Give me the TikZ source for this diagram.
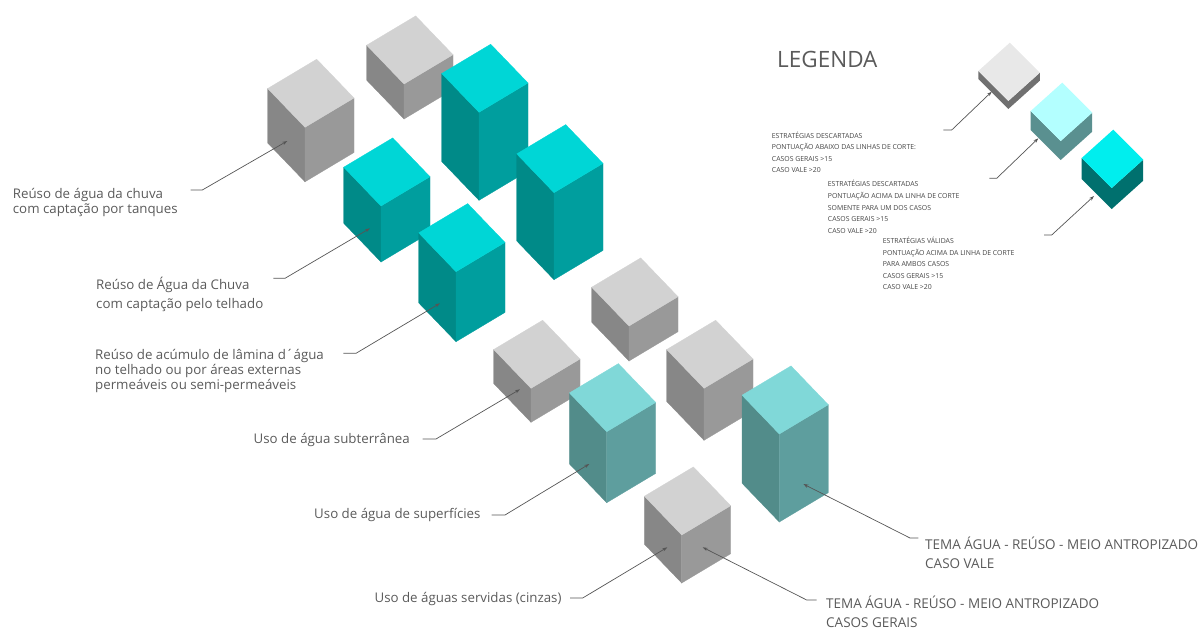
\documentclass[tikz,border=0pt]{standalone}
\usepackage{fontspec}
\setmainfont{Open Sans}
\usetikzlibrary{arrows.meta}

% face colours
\definecolor{gtop}{HTML}{D2D2D2}
\definecolor{gleft}{HTML}{878787}
\definecolor{gright}{HTML}{999999}
\definecolor{ttop}{HTML}{00D6D6}
\definecolor{tleft}{HTML}{008A88}
\definecolor{tright}{HTML}{009E9E}
\definecolor{ltop}{HTML}{80D8D8}
\definecolor{lleft}{HTML}{528C8A}
\definecolor{lright}{HTML}{5E9E9E}
% legend colours
\definecolor{kgtop}{HTML}{E8E8E8}
\definecolor{kgside}{HTML}{707070}
\definecolor{kltop}{HTML}{B3FFFF}
\definecolor{klside}{HTML}{5A9090}
\definecolor{kttop}{HTML}{00EEEE}
\definecolor{ktside}{HTML}{00706E}
% text and leader colours
\definecolor{txt}{HTML}{5A5A5A}
\definecolor{ktxt}{HTML}{444444}
\definecolor{leadc}{HTML}{555555}

% isometric box: front-top corner (#1,#2), height #3, colour set #4 (g, t or l)
\newcommand\isobox[4]{%
  \fill[#4left,draw=#4left,line width=0.3pt] (#1,#2) -- ++(-37.3,-38.8) -- ++(0,#3) -- ++(37.3,38.8) -- cycle;
  \fill[#4right,draw=#4right,line width=0.3pt] (#1,#2) -- ++(49,-29.3) -- ++(0,#3) -- ++(-49,29.3) -- cycle;
  \fill[#4top,draw=#4top,line width=0.3pt] (#1,#2) -- ++(-37.3,-38.8) -- ++(49,-29.3) -- ++(37.3,38.8) -- cycle;
}
% legend box seen from above: front-top corner (#1,#2), height #3, colour set #4
\newcommand\keybox[4]{%
  \fill[#4side] (#1,#2) ++(-30,-30) -- ++(0,#3) -- ++(30,30) -- ++(31.5,-28.3) -- ++(0,-#3) -- ++(-31.5,28.3) -- cycle;
  \fill[#4top] (#1,#2) -- ++(-30,-30) -- ++(31.5,-28.3) -- ++(30,30) -- cycle;
}

\tikzset{
  lab/.style={font=\fontsize{13.3}{15.7}\selectfont, text=txt, align=left, inner sep=0pt},
  tema/.style={font=\fontsize{13.5}{19}\selectfont, text=txt, align=left, inner sep=0pt},
  keytxt/.style={font=\fontsize{6.9}{11.6}\selectfont, text=ktxt, align=left, inner sep=0pt},
  lead/.style={draw=leadc, line width=0.7pt, -{Stealth[length=5pt,width=3.4pt]}},
}

\begin{document}
\begin{tikzpicture}[x=1pt,y=-1pt]
\useasboundingbox (0,0) rectangle (1199,630);

% boxes, back to front
\isobox{404}{84}{35}{g}
\isobox{305}{127.3}{54.5}{g}
\isobox{479}{112.3}{88}{t}
\isobox{381}{206}{56}{t}
\isobox{554}{192.7}{87}{t}
\isobox{456}{271.7}{70}{t}
\isobox{629}{326}{35}{g}
\isobox{531}{388.3}{34}{g}
\isobox{704}{388.3}{52}{g}
\isobox{606.7}{431.7}{71}{l}
\isobox{779.3}{434}{88}{l}
\isobox{681.7}{535}{48}{g}

% legend boxes
\keybox{1008.3}{101}{8}{kg}
\keybox{1060.7}{141}{19}{kl}
\keybox{1111.7}{188}{21}{kt}

% labels
\node[lab, anchor=west] (l1) at (12.7,202.5) {Reúso de água da chuva\\com captação por tanques};
\node[lab, anchor=west, font=\fontsize{13.3}{19.5}\selectfont] (l2) at (96,294.5) {Reúso de Água da Chuva\\com captação pelo telhado};
\node[lab, anchor=west, font=\fontsize{13.3}{14.6}\selectfont] (l3) at (95,371) {Reúso de acúmulo de lâmina d´água\\no telhado ou por áreas externas\\permeáveis ou semi-permeáveis};
\node[lab, anchor=east] (l4) at (410,440) {Uso de água subterrânea};
\node[lab, anchor=east] (l5) at (480.7,515) {Uso de água de superfícies};
\node[lab, anchor=east] (l6) at (561.7,599) {Uso de águas servidas (cinzas)};
\node[tema, anchor=west] (l7) at (826,612) {TEMA ÁGUA - REÚSO - MEIO ANTROPIZADO\\CASOS GERAIS};
\node[tema, anchor=west] (l8) at (925,552.5) {TEMA ÁGUA - REÚSO - MEIO ANTROPIZADO\\CASO VALE};

% legend
\node[font=\fontsize{22.5}{26}\selectfont, text=txt, inner sep=0pt, anchor=west] (title) at (777,59) {LEGENDA};
\node[keytxt, anchor=west] (k1) at (771.7,152.3) {ESTRATÉGIAS DESCARTADAS\\PONTUAÇÃO ABAIXO DAS LINHAS DE CORTE:\\CASOS GERAIS >15\\CASO VALE >20};
\node[keytxt, anchor=west] (k2) at (827.7,207) {ESTRATÉGIAS DESCARTADAS\\PONTUAÇÃO ACIMA DA LINHA DE CORTE\\SOMENTE PARA UM DOS CASOS\\CASOS GERAIS >15\\CASO VALE >20};
\node[keytxt, anchor=west] (k3) at (882.7,263.5) {ESTRATÉGIAS VÁLIDAS\\PONTUAÇÃO ACIMA DA LINHA DE CORTE\\PARA AMBOS CASOS\\CASOS GERAIS >15\\CASO VALE >20};

% leader ends: start, knee, tip
\coordinate (s1) at (190.7,190);   \coordinate (n1) at (202.3,190);   \coordinate (t1) at (287.3,141);
\coordinate (s2) at (273.3,278.3); \coordinate (n2) at (285,278.3);   \coordinate (t2) at (370,228.3);
\coordinate (s3) at (343.3,353.3); \coordinate (n3) at (356,353.3);   \coordinate (t3) at (440,303.3);
\coordinate (s4) at (422.7,439);   \coordinate (n4) at (436,439);     \coordinate (t4) at (520,389.3);
\coordinate (s5) at (491.7,515);   \coordinate (n5) at (505,515);     \coordinate (t5) at (589.3,464);
\coordinate (s6) at (570,598);     \coordinate (n6) at (582.7,598);   \coordinate (t6) at (667.3,547.3);
\coordinate (s7) at (816.7,600);   \coordinate (n7) at (806.7,600);   \coordinate (t7) at (702.7,547.3);
\coordinate (s8) at (918.3,538);   \coordinate (n8) at (910,538);     \coordinate (t8) at (803.3,484);
\coordinate (sa) at (943.3,130);   \coordinate (na) at (951.7,130);   \coordinate (ta) at (991.7,91.7);
\coordinate (sb) at (989.3,178.3); \coordinate (nb) at (996.7,178.3); \coordinate (tb) at (1038.3,138.3);
\coordinate (sc) at (1044,235);    \coordinate (nc) at (1051.7,235);  \coordinate (tc) at (1094,196);

\foreach \i in {1,...,8,a,b,c}{
  \draw[lead] (s\i) -- (n\i) -- (t\i);
}
\end{tikzpicture}
\end{document}
